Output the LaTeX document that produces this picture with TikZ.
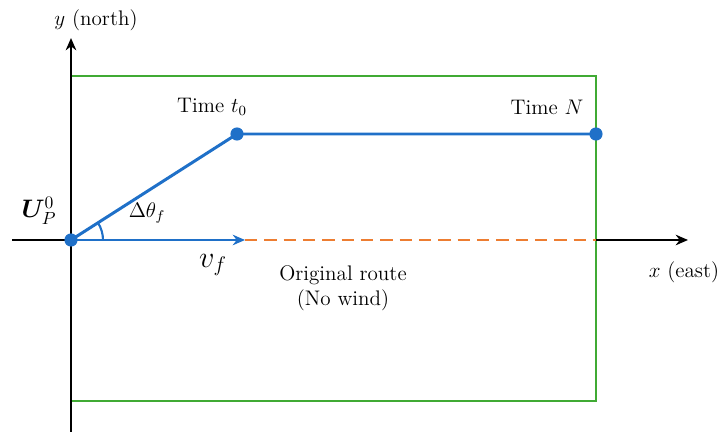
\documentclass[tikz,border=0pt]{standalone}
\usepackage{mathtools,amssymb,bm}
\usepackage{tikz}
\usetikzlibrary{arrows.meta,calc}

\definecolor{routeblue}{RGB}{31,112,200}
\definecolor{windorange}{RGB}{237,125,49}
\definecolor{boxgreen}{RGB}{64,170,52}

\begin{document}
\begin{tikzpicture}[x=0.02cm, y=-0.02cm,
    axis/.style={line width=1.4pt},
    tip/.style={-{Stealth[length=7pt,width=6pt]}},
    route/.style={routeblue, line width=1.7pt},
    pt/.style={circle, fill=routeblue, inner sep=0pt, minimum size=7.5pt},
    lbl/.style={font=\large}]
  \useasboundingbox (0,0) rectangle (728,432);
  % area
  \draw[boxgreen, line width=1.1pt] (71,76) rectangle (596,401);
  % axes
  \coordinate (xs) at (12,240);
  \coordinate (xe) at (688,240);
  \coordinate (ys) at (71,432);
  \coordinate (ye) at (71,38);
  \draw[axis] (xs) -- (71,240);
  \draw[axis, tip] (596,240) -- (xe);
  \draw[axis, tip] (ys) -- (ye);
  \node[lbl] (ylab) at (96,20) {$y$ (north)};
  \node[lbl] (xlab) at (684,272) {$x$ (east)};
  % points
  \node[pt] (o) at (71,240) {};
  \node[pt] (t0) at (237,134) {};
  \node[pt] (tn) at (596,134) {};
  \coordinate (vf) at (245,240);
  \coordinate (ve) at (596,240);
  % routes
  \draw[windorange, line width=1.6pt, dash pattern=on 7pt off 4pt] (vf) -- (ve);
  \draw[route, tip] (o.center) -- (vf);
  \draw[route] (o.center) -- (t0.center) -- (tn.center);
  \draw[routeblue, line width=1.2pt] (103,240) arc[start angle=0, end angle=-32.6, radius=32];
  % labels
  \node[font=\Large] (u) at (39,211) {$\bm{U}_P^0$};
  \node[lbl] (dth) at (147,213) {$\Delta\theta_f$};
  \node[font=\LARGE] (vfl) at (213,265) {$v_f$};
  \node[lbl] (t0l) at (212,107) {Time $t_0$};
  \node[lbl] (tnl) at (547,107) {Time $N$};
  \node[lbl, align=center] (orig) at (343,288) {Original route\\(No wind)};
\end{tikzpicture}
\end{document}
